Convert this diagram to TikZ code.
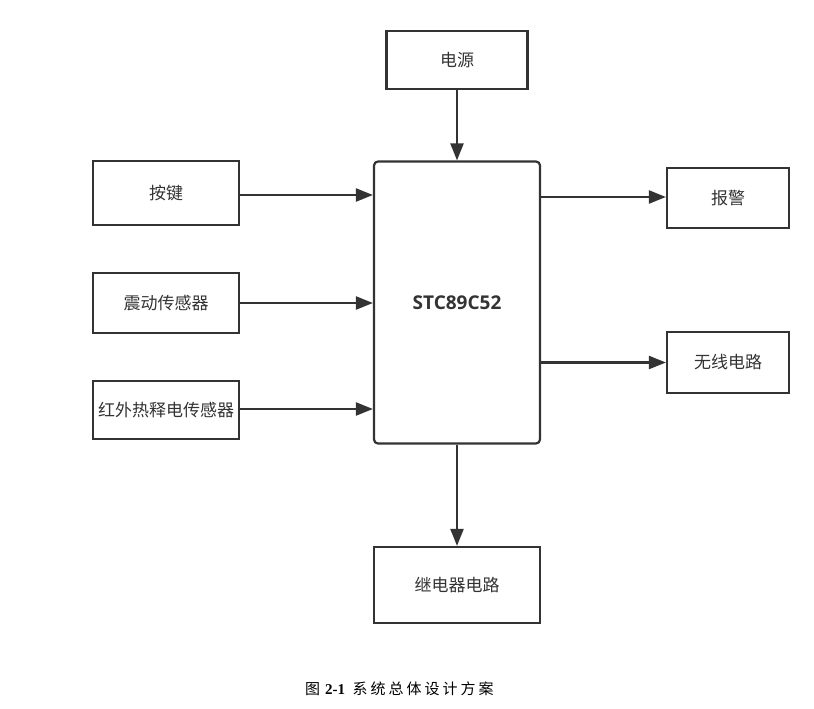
\documentclass[tikz,border=0pt]{standalone}
\usepackage{fontspec}
\setmainfont{Liberation Serif}
\newfontfamily\cjk{Noto Sans CJK SC}
\newfontfamily\cjkcap[LetterSpace=20]{Noto Sans CJK SC}
\newfontfamily\mcufont{Open Sans}
\usetikzlibrary{arrows.meta}
\definecolor{ln}{HTML}{333333}
\definecolor{tx}{HTML}{333333}
\tikzset{
  blk/.style={draw=ln, line width=2.2pt, inner sep=0pt, text=tx, font=\cjk\fontsize{17}{19}\selectfont},
  mcu/.style={blk, rounded corners=4pt, font=\mcufont\bfseries\fontsize{19}{22}\selectfont},
  arr/.style={draw=ln, line width=2.2pt, -{Triangle[length=17pt,width=13pt]}}
}
\begin{document}
\begin{tikzpicture}[x=1pt,y=-1pt]
\useasboundingbox (0,0) rectangle (814,709);
\node[mcu, minimum width=166pt, minimum height=282pt] (m) at (457,302.5) {STC89C52};
\node[blk, minimum width=141pt, minimum height=58pt] (p) at (457,60) {电源};
\node[blk, minimum width=146pt, minimum height=64pt] (k) at (166,193) {按键};
\node[blk, minimum width=146pt, minimum height=60pt] (v) at (166,303) {震动传感器};
\node[blk, minimum width=146pt, minimum height=58pt] (h) at (166,410) {红外热释电传感器};
\node[blk, minimum width=122pt, minimum height=60pt] (a) at (728,198) {报警};
\node[blk, minimum width=122pt, minimum height=61pt] (w) at (728,362.5) {无线电路};
\node[blk, minimum width=166pt, minimum height=76pt] (r) at (457,585) {继电器电路};
\draw[arr] (p.south) -- (m.north);
\draw[arr] (k.east |- 0,195) -- (m.west |- 0,195);
\draw[arr] (v.east) -- (m.west |- v.east);
\draw[arr] (h.east |- 0,409) -- (m.west |- 0,409);
\draw[arr] (m.east |- 0,197) -- (a.west |- 0,197);
\draw[arr] (m.east |- w.west) -- (w.west);
\draw[arr] (m.south) -- (r.north);
\node[font=\fontsize{15}{17}\selectfont, anchor=west, inner sep=0pt] (cap) at (305,689) {{\cjkcap 图}\,\,\textbf{2-1}\ \ {\cjkcap 系统总体设计方案}};
\end{tikzpicture}
\end{document}
